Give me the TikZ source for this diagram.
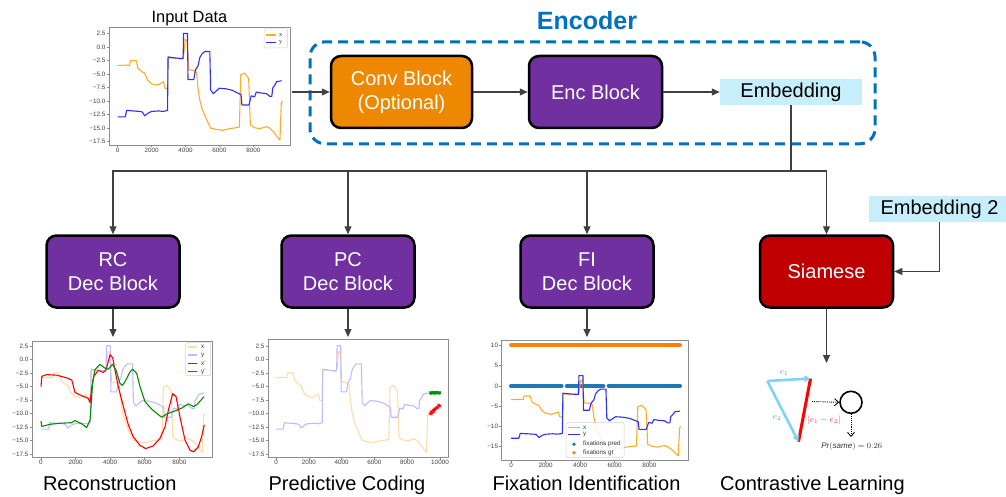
\documentclass[tikz,border=0pt]{standalone}
\usepackage{fontspec}
\setmainfont{Liberation Sans}
\newfontfamily\legserif{Liberation Serif}
\usetikzlibrary{arrows.meta}
\definecolor{encblue}{RGB}{0,112,192}
\definecolor{convorange}{RGB}{238,136,0}
\definecolor{encpurple}{RGB}{112,48,160}
\definecolor{siamred}{RGB}{192,0,0}
\definecolor{embfill}{RGB}{199,238,252}
\definecolor{linegray}{RGB}{64,64,64}
\definecolor{xorange}{RGB}{255,172,40}
\definecolor{yblue}{RGB}{45,45,255}
\definecolor{xfaint}{RGB}{255,220,170}
\definecolor{yfaint}{RGB}{188,188,255}
\definecolor{tabblue}{RGB}{31,119,180}
\definecolor{taborange}{RGB}{255,127,14}
\definecolor{arrowblue}{RGB}{125,212,246}
\definecolor{elabblue}{RGB}{70,150,215}
\definecolor{axgray}{RGB}{140,140,140}
\definecolor{predgreen}{RGB}{0,140,0}
\newcommand\tkfont{\fontsize{6.3}{7}\selectfont}
\newcommand\bigfont{\fontsize{20}{24}\selectfont}
\def\sigx{(0,-3.4) -- (0.5,-3.3) -- (0.7,-3.4) -- (0.75,-2.5) -- (1.1,-2.5) -- (1.2,-3.9) -- (1.4,-4.5) -- (1.6,-4.8) -- (1.75,-6.0) -- (2.0,-6.8) -- (2.3,-7.0) -- (2.5,-6.8) -- (2.7,-6.4) -- (2.8,-7.6) -- (2.95,-7.7) -- (2.98,-2.0) -- (3.4,-2.0) -- (3.8,-2.2) -- (3.9,-1.5) -- (4.0,1.5) -- (4.1,1.2) -- (4.2,-4.2) -- (4.5,-4.3) -- (4.66,-4.6) -- (4.75,-7.5) -- (4.86,-9.8) -- (5.0,-11.5) -- (5.15,-12.6) -- (5.35,-14.0) -- (5.5,-15.0) -- (5.8,-15.2) -- (6.2,-15.4) -- (6.6,-15.1) -- (7.0,-14.9) -- (7.2,-14.8) -- (7.28,-5.1) -- (7.5,-4.8) -- (7.75,-5.8) -- (7.85,-14.4) -- (8.1,-14.9) -- (8.4,-15.1) -- (8.8,-14.7) -- (9.0,-15.0) -- (9.2,-15.6) -- (9.35,-16.2) -- (9.5,-16.9) -- (9.6,-17.2) -- (9.68,-10.3) -- (9.75,-10.0)}
\def\sigy{(0,-12.9) -- (0.45,-12.9) -- (0.53,-11.7) -- (0.9,-11.8) -- (1.3,-11.9) -- (1.45,-12.0) -- (1.6,-12.7) -- (1.8,-12.2) -- (2.0,-11.9) -- (2.4,-11.8) -- (2.7,-11.9) -- (2.95,-11.7) -- (2.98,-1.8) -- (3.4,-2.0) -- (3.87,-2.1) -- (3.9,2.55) -- (4.13,2.55) -- (4.16,-6.0) -- (4.5,-6.0) -- (4.6,-4.2) -- (4.75,-3.5) -- (4.86,-1.9) -- (5.0,-1.2) -- (5.15,-0.8) -- (5.45,-0.8) -- (5.5,-7.9) -- (5.65,-8.6) -- (5.8,-8.2) -- (6.0,-7.6) -- (6.4,-7.7) -- (6.8,-8.0) -- (7.1,-8.5) -- (7.3,-8.8) -- (7.35,-10.7) -- (7.77,-10.7) -- (7.9,-9.0) -- (8.1,-9.2) -- (8.2,-8.3) -- (8.5,-8.5) -- (8.8,-8.6) -- (9.0,-9.1) -- (9.12,-9.1) -- (9.17,-7.6) -- (9.3,-7.0) -- (9.4,-6.4) -- (9.7,-6.2)}
\def\sigxr{(0,-5.0) -- (0.05,-3.1) -- (0.34,-2.8) -- (0.93,-2.9) -- (1.53,-3.4) -- (1.83,-3.8) -- (1.92,-4.8) -- (2.02,-6.1) -- (2.42,-6.7) -- (2.82,-7.2) -- (2.92,-8.0) -- (3.02,-5.2) -- (3.15,-3.1) -- (3.41,-2.0) -- (3.71,-2.4) -- (3.87,-1.9) -- (4.11,0.9) -- (4.27,0.3) -- (4.4,-1.9) -- (4.6,-5.0) -- (4.9,-8.7) -- (5.2,-12.1) -- (5.49,-14.3) -- (5.89,-15.9) -- (6.23,-16.5) -- (6.68,-16.0) -- (7.08,-14.6) -- (7.38,-12.5) -- (7.58,-9.4) -- (7.84,-6.3) -- (8.04,-6.9) -- (8.27,-10.6) -- (8.57,-14.9) -- (8.87,-16.8) -- (9.07,-17.1) -- (9.36,-16.2) -- (9.56,-14.3) -- (9.72,-12.1)}
\def\sigyg{(0,-11.4) -- (0.05,-12.4) -- (0.54,-12.0) -- (1.13,-11.8) -- (1.83,-11.7) -- (2.02,-11.3) -- (2.42,-11.9) -- (2.72,-12.6) -- (2.92,-11.2) -- (3.08,-4.1) -- (3.21,-1.9) -- (3.51,-0.9) -- (3.81,-1.6) -- (4.01,-1.8) -- (4.25,-0.9) -- (4.46,-1.9) -- (4.7,-4.4) -- (4.84,-4.8) -- (5.0,-4.1) -- (5.3,-2.3) -- (5.46,-1.8) -- (5.7,-2.6) -- (5.89,-5.0) -- (6.19,-7.8) -- (6.59,-9.2) -- (7.18,-10.7) -- (7.48,-10.1) -- (8.08,-9.4) -- (8.38,-9.0) -- (8.77,-8.2) -- (9.07,-8.7) -- (9.27,-8.4) -- (9.7,-6.9)}
\begin{document}
\begin{tikzpicture}[x=1pt,y=-1pt,
  block/.style={draw=black, line width=2.5pt, rounded corners=10pt, minimum width=133pt, minimum height=72pt, text=white, font=\bigfont, align=center, inner sep=0pt},
  conn/.style={draw=linegray, line width=1.2pt, -{Triangle[length=8pt,width=7pt]}},
  connplain/.style={draw=linegray, line width=1.2pt},
  embnode/.style={fill=embfill, minimum height=26pt, font=\bigfont, inner sep=0pt},
  capt/.style={font=\bigfont, anchor=base},
  frame/.style={draw=axgray, line width=0.8pt},
  tickmark/.style={draw=axgray, line width=0.6pt},
  ticklab/.style={font=\tkfont, text=black!75, inner sep=0.8pt},
  sigline/.style={line width=1.1pt, line join=round},
  legbox/.style={draw=black!18, fill=white, fill opacity=0.85, rounded corners=1.5pt, line width=0.5pt},
  leglab/.style={font=\tkfont, text=black!80, anchor=west, inner sep=0pt},
  dotarrow/.style={densely dotted, line width=0.9pt, -{Straight Barb[length=4pt,width=7pt]}}
]
\useasboundingbox (0,0) rectangle (1006,497);

% ---------------- Input data plot ----------------
\node[font=\fontsize{16.4}{18}\selectfont, anchor=base] (intitle) at (189.5,22.7) {Input Data};
\draw[frame] (109.3,27.7) rectangle (290,145);
\foreach \v/\l [count=\k] in {2.5/2.5,0/0.0,-2.5/−2.5,-5/−5.0,-7.5/−7.5,-10/−10.0,-12.5/−12.5,-15/−15.0,-17.5/−17.5} {
  \draw[tickmark] (109.3,{47.2-5.4*(\v)}) -- ++(-2.5,0);
  \node[ticklab, anchor=east] (iny\k) at (106.3,{47.2-5.4*(\v)}) {\l};
}
\foreach \t [count=\k] in {0,2000,4000,6000,8000} {
  \draw[tickmark] ({117.7+33.9*(\k-1)},145) -- ++(0,2.5);
  \node[ticklab, anchor=north] (inx\k) at ({117.7+33.9*(\k-1)},147.5) {\t};
}
\begin{scope}[shift={(117.7,47.2)}, xscale=16.9, yscale=-5.4]
  \draw[sigline, xorange] \sigx;
  \draw[sigline, yblue] \sigy;
\end{scope}
\draw[legbox] (264,29) rectangle (287.7,48);
\draw[sigline, xorange] (266,35) -- (276,35);
\draw[sigline, yblue] (266,42.5) -- (276,42.5);
\node[leglab, font=\legserif\fontsize{6.3}{7}\selectfont] (inlx) at (279,35) {x};
\node[leglab, font=\legserif\fontsize{6.3}{7}\selectfont] (inly) at (279,42.5) {y};
\coordinate (inout) at (292,92);

% ---------------- Encoder ----------------
\node[draw=encblue, line width=3pt, dash pattern=on 10pt off 6pt, rounded corners=15pt, minimum width=565pt, minimum height=102pt, inner sep=0pt] (encoder) at (592.5,92.8) {};
\node[font=\bfseries\fontsize{25}{28}\selectfont, text=encblue, anchor=base] (enclab) at (587,30) {Encoder};
\node[block, fill=convorange, minimum width=141pt] (conv) at (401.5,92) {Conv Block\\(Optional)};
\node[block, fill=encpurple] (enc) at (595.5,92) {Enc Block};
\node[embnode, minimum width=142pt] (emb) at (791,92) {Embedding};
\draw[conn] (inout) -- (conv.west);
\draw[conn] (conv.east) -- (enc.west);
\draw[conn] (enc.east) -- (emb.west);

% ---------------- Decoders ----------------
\node[block, fill=encpurple] (rc) at (113,271.5) {RC\\Dec Block};
\node[block, fill=encpurple] (pc) at (348,271.5) {PC\\Dec Block};
\node[block, fill=encpurple] (fi) at (587,271.5) {FI\\Dec Block};
\node[block, fill=siamred] (siam) at (826.5,271.5) {Siamese};
\node[embnode, minimum width=141pt] (emb2) at (939.5,209) {Embedding 2};
\coordinate (j) at (791,171);
\draw[connplain] (emb.south) -- (j);
\draw[conn] (j) -| (rc.north);
\draw[conn] (j) -| (pc.north);
\draw[conn] (j) -| (fi.north);
\draw[conn] (j) -| (siam.north);
\draw[conn] (emb2.south) |- (siam.east);
\coordinate (rcin) at (113,337);
\coordinate (pcin) at (348,337);
\coordinate (fiin) at (587,337);
\coordinate (clin) at (826.5,363);
\draw[conn] (rc.south) -- (rcin);
\draw[conn] (pc.south) -- (pcin);
\draw[conn] (fi.south) -- (fiin);
\draw[conn] (siam.south) -- (clin);

% ---------------- Reconstruction plot ----------------
\draw[frame] (32,341) rectangle (212,457);
\foreach \v/\l [count=\k] in {2.5/2.5,0/0.0,-2.5/−2.5,-5/−5.0,-7.5/−7.5,-10/−10.0,-12.5/−12.5,-15/−15.0,-17.5/−17.5} {
  \draw[tickmark] (32,{359.5-5.4*(\v)}) -- ++(-2.5,0);
  \node[ticklab, anchor=east] (rcy\k) at (29.3,{359.5-5.4*(\v)}) {\l};
}
\foreach \t [count=\k] in {0,2000,4000,6000,8000} {
  \draw[tickmark] ({41+34.58*(\k-1)},457) -- ++(0,2.5);
  \node[ticklab, anchor=north] (rcx\k) at ({41+34.58*(\k-1)},459.5) {\t};
}
\begin{scope}[shift={(41,359.5)}, xscale=16.8, yscale=-5.4]
  \draw[sigline, xfaint] \sigx;
  \draw[sigline, yfaint] \sigy;
  \draw[sigline, red] \sigxr;
  \draw[sigline, predgreen] \sigyg;
\end{scope}
\draw[legbox] (185.7,342.7) rectangle (210.7,375.7);
\draw[sigline, xfaint] (188,347) -- (197,347);
\draw[sigline, yfaint] (188,355) -- (197,355);
\draw[sigline, red] (188,363.3) -- (197,363.3);
\draw[sigline, predgreen] (188,371.5) -- (197,371.5);
\node[leglab] (rclx) at (201,347) {x};
\node[leglab] (rcly) at (201,355) {y};
\node[leglab] (rclxr) at (201,363.3) {x'};
\node[leglab] (rclyg) at (201,371.5) {y'};

% ---------------- Predictive coding plot ----------------
\draw[frame] (268,339) rectangle (448,457);
\foreach \v/\l [count=\k] in {2.5/2.5,0/0.0,-2.5/−2.5,-5/−5.0,-7.5/−7.5,-10/−10.0,-12.5/−12.5,-15/−15.0,-17.5/−17.5} {
  \draw[tickmark] (268,{359.5-5.4*(\v)}) -- ++(-2.5,0);
  \node[ticklab, anchor=east] (pcy\k) at (265.3,{359.5-5.4*(\v)}) {\l};
}
\foreach \t [count=\k] in {0,2000,4000,6000,8000,10000} {
  \draw[tickmark] ({276+32.8*(\k-1)},457) -- ++(0,2.5);
  \node[ticklab, anchor=north] (pcx\k) at ({276+32.8*(\k-1)},459.5) {\t};
}
\begin{scope}[shift={(276,359.5)}, xscale=15.67, yscale=-5.4]
  \draw[sigline, xfaint] \sigx;
  \draw[sigline, yfaint] \sigy;
\end{scope}
\draw[predgreen, line width=0.7pt] plot[only marks, mark=x, mark size=1.6pt] coordinates {(430,392.5) (431,393.6) (432,392) (433,393.2) (434,392.4) (435,393.5) (436,392.2) (437,393) (438,392.4) (439,393.4) (440,392.6) (431.5,392.8) (433.5,392.6) (435.5,392.9) (437.5,392.5) (439.5,392.8)};
\draw[red, line width=0.7pt] plot[only marks, mark=x, mark size=1.6pt] coordinates {(430,413.5) (431,411.5) (432,412.5) (433,410) (434,410.5) (435,408.5) (436,409) (437,407) (438,407.5) (439,405.5) (440,406) (431.5,414) (433.5,411.8) (436.5,407.8) (438.5,405) (434.5,409.6)};

% ---------------- Fixation identification plot ----------------
\draw[frame] (501.7,340) rectangle (688,460);
\foreach \v/\l [count=\k] in {10/10,5/5,0/0,-5/−5,-10/−10,-15/−15} {
  \draw[tickmark] (501.7,{385.9-4.056*(\v)}) -- ++(-2.5,0);
  \node[ticklab, anchor=east] (fiy\k) at (499,{385.9-4.056*(\v)}) {\l};
}
\foreach \t [count=\k] in {0,2000,4000,6000,8000} {
  \draw[tickmark] ({511+34.58*(\k-1)},460) -- ++(0,2.5);
  \node[ticklab, anchor=north] (fix\k) at ({511+34.58*(\k-1)},462.5) {\t};
}
\begin{scope}[shift={(511,385.9)}, xscale=17.42, yscale=-4.056]
  \draw[taborange, line width=4pt, line cap=round] (0,10) -- (9.7,10);
  \draw[tabblue, line width=4pt, line cap=round] (0,0) -- (2.91,0);
  \draw[tabblue, line width=4pt, line cap=round] (3.2,0) -- (5.3,0);
  \draw[tabblue, line width=4pt, line cap=round] (5.6,0) -- (9.7,0);
  \draw[sigline, xorange] \sigx;
  \draw[sigline, yblue] \sigy;
\end{scope}
\draw[legbox] (566,422.7) rectangle (624,457.7);
\draw[sigline, xorange] (568,427.7) -- (580,427.7);
\draw[sigline, yblue] (568,434.3) -- (580,434.3);
\fill[tabblue] (574,444.3) circle (1.9pt);
\fill[taborange] (574,452.7) circle (1.9pt);
\node[leglab] (filx) at (583,427.7) {x};
\node[leglab] (fily) at (583,434.3) {y};
\node[leglab] (filp) at (583,444.3) {fixations pred};
\node[leglab] (filg) at (583,452.7) {fixations gt};

% ---------------- Contrastive learning figure ----------------
\coordinate (va) at (767.3,381);
\coordinate (vb) at (810.5,378.5);
\coordinate (vc) at (798.5,441.7);
\draw[red, line width=3pt] (vb) -- (vc);
\draw[arrowblue, line width=2.6pt, -{Triangle[length=6pt,width=6.5pt]}] (va) -- (vb);
\draw[arrowblue, line width=2.6pt, -{Triangle[length=6pt,width=6.5pt]}] (va) -- (vc);
\node[text=elabblue, font=\fontsize{9}{10}\selectfont] (e1lab) at (784,373) {$e_1$};
\node[text=elabblue, font=\fontsize{9}{10}\selectfont] (e2lab) at (777,418.5) {$e_2$};
\node[text=red!75, font=\fontsize{9}{10}\selectfont] (difflab) at (824,420) {$|e_1-e_2|$};
\node[draw=black, circle, line width=1.6pt, minimum size=22pt, inner sep=0pt] (out) at (851,402.3) {};
\coordinate (dfrom) at (812,401.5);
\coordinate (pend) at (851,437);
\draw[dotarrow] (dfrom) -- (out.west);
\draw[dotarrow] (out.south) -- (pend);
\node[font=\fontsize{8}{9}\selectfont, text=black!80] (prlab) at (851.7,446.7) {$\mathit{Pr}(\mathit{same}) = 0.26$};

% ---------------- Captions ----------------
\node[capt] (capRC) at (109.7,490.7) {Reconstruction};
\node[capt] (capPC) at (347,490.7) {Predictive Coding};
\node[capt] (capFI) at (586.5,490.7) {Fixation Identification};
\node[capt] (capCL) at (812.5,490.7) {Contrastive Learning};
\end{tikzpicture}
\end{document}
